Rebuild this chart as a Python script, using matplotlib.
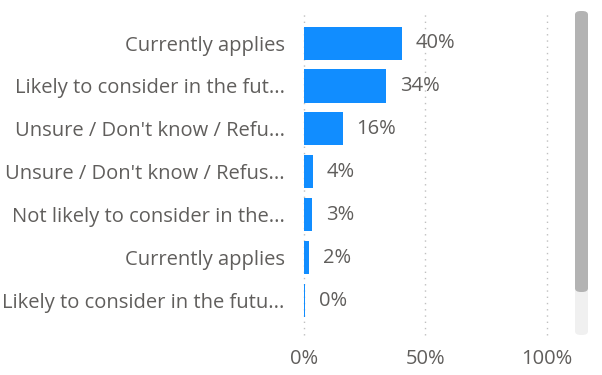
import matplotlib.pyplot as plt
from matplotlib.patches import FancyBboxPatch

plt.rcParams['font.family'] = ['Open Sans', 'DejaVu Sans']

categories = [
    "Currently applies",
    "Likely to consider in the fut...",
    "Unsure / Don't know / Refu...",
    "Unsure / Don't know / Refus...",
    "Not likely to consider in the...",
    "Currently applies",
    "Likely to consider in the futu...",
]
values = [0.402, 0.339, 0.159, 0.038, 0.032, 0.022, 0.003]
value_labels = ["40%", "34%", "16%", "4%", "3%", "2%", "0%"]
x_ticks = [0, 0.5, 1.0]
x_tick_labels = ["0%", "50%", "100%"]

bar_color = "#118DFF"
text_color = "#605E5C"
fs = 14.5

W, H = 602, 375
fig = plt.figure(figsize=(W / 100, H / 100), dpi=100)
ax = fig.add_axes([304 / W, 1 - 335 / H, 243 / W, 325 / H])

# dotted vertical gridlines (not clipped so the 100% line shows at the edge)
for xt in x_ticks:
    ax.axvline(xt, color="#c0c0c0", linestyle=(0, (1, 3.5)), linewidth=1,
               clip_on=False, zorder=0)

y = list(range(len(categories)))
ax.barh(y, values, height=0.77, color=bar_color, zorder=2)
for yi, v, lab in zip(y, values, value_labels):
    ax.annotate(lab, (v, yi), xytext=(10, 0), textcoords="offset points",
                va="center", ha="left", fontsize=fs, color=text_color)

ax.set_xlim(0, 1.0)
ax.set_ylim(6.8, -0.77)
ax.set_yticks(y)
ax.set_yticklabels(categories, fontsize=fs, color=text_color)
ax.set_xticks(x_ticks)
ax.set_xticklabels(x_tick_labels, fontsize=fs, color=text_color)
ax.tick_params(axis="y", length=0, pad=14)
ax.tick_params(axis="x", length=0, pad=10)
for s in ax.spines.values():
    s.set_visible(False)

# scrollbar on the right
track = FancyBboxPatch((575 / W, 1 - 335 / H), 13 / W, 324 / H,
                       boxstyle="round,pad=0,rounding_size=0.01",
                       transform=fig.transFigure, facecolor="#f0f0f0",
                       edgecolor="none")
thumb = FancyBboxPatch((575 / W, 1 - 292 / H), 13 / W, 281 / H,
                       boxstyle="round,pad=0,rounding_size=0.01",
                       transform=fig.transFigure, facecolor="#b3b3b3",
                       edgecolor="none")
fig.patches.extend([track, thumb])

fig.savefig("out.png", dpi=100)
